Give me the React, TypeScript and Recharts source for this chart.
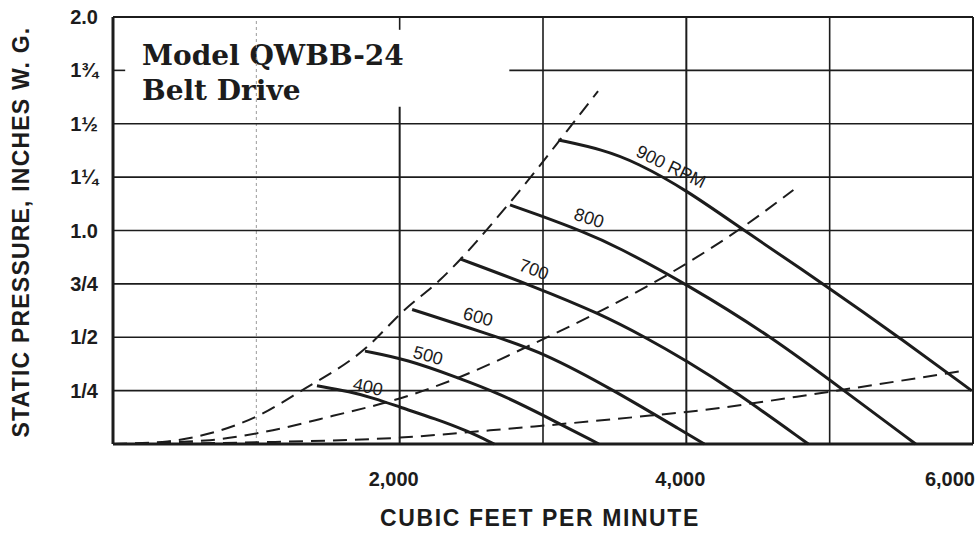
import { LineChart, Line, XAxis, YAxis, ReferenceLine, ReferenceDot } from 'recharts'

// fan curves, [cfm, static pressure in. w.g.]
const rpm400 = [[1423, 0.273], [1654, 0.245], [1830, 0.213], [2003, 0.172], [2250, 0.118], [2470, 0.062], [2660, 0]]
const rpm500 = [[1758, 0.435], [2051, 0.396], [2400, 0.312], [2700, 0.235], [3000, 0.135], [3390, 0]]
const rpm600 = [[2087, 0.63], [2614, 0.516], [3000, 0.43], [3500, 0.25], [4000, 0.05], [4126, 0]]
const rpm700 = [[2421, 0.867], [2940, 0.737], [3398, 0.61], [3714, 0.5], [4000, 0.39], [4333, 0.25], [4851, 0]]
const rpm800 = [[2770, 1.12], [2940, 1.08], [3298, 0.99], [3500, 0.93], [4000, 0.75], [4600, 0.5], [5100, 0.25], [5600, 0]]
const rpm900 = [
  [3107, 1.424], [3417, 1.379], [3655, 1.318], [4000, 1.19], [4402, 1.0],
  [5000, 0.73], [5494, 0.495], [5990, 0.25],
]

// dashed system lines
const systemA = [
  [0, 0], [380, 0.012], [677, 0.05], [1005, 0.13], [1305, 0.246], [1772, 0.454],
  [2023, 0.621], [2282, 0.769], [2770, 1.132], [3168, 1.467], [3384, 1.653],
]
const systemB = [
  [0, 0], [677, 0.018], [1005, 0.05], [1535, 0.132], [2023, 0.218], [2421, 0.314],
  [2940, 0.472], [3369, 0.612], [4000, 0.845], [4402, 1.02], [4747, 1.19],
]
const systemC = [
  [0, 0], [1005, 0.008], [2003, 0.03], [2631, 0.064], [2940, 0.082], [3747, 0.133],
  [4000, 0.15], [5000, 0.245], [5940, 0.344],
]

const cfmTicks = [2000, 4000, 6000]
const cfmTickLabels = ['2,000', '4,000', '6,000']
const spTicks = [0.25, 0.5, 0.75, 1, 1.25, 1.5, 1.75, 2]
const spTickLabels = ['1/4', '1/2', '3/4', '1.0', '1¼', '1½', '1¾', '2.0']

const curveLabels = [
  { text: '400', cfm: 1779, sp: 0.267, angle: 12 },
  { text: '500', cfm: 2198, sp: 0.414, angle: 15 },
  { text: '600', cfm: 2547, sp: 0.595, angle: 15 },
  { text: '700', cfm: 2937, sp: 0.817, angle: 20 },
  { text: '800', cfm: 3321, sp: 1.058, angle: 18 },
  { text: '900 RPM', cfm: 3893, sp: 1.299, angle: 26 },
]

const toPoints = (rows: number[][]) => rows.map(([cfm, sp]) => ({ cfm, sp }))

const INK = '#1c1c1c'
const SANS = '"Liberation Sans", Arial, sans-serif'

const fanSeries = [rpm400, rpm500, rpm600, rpm700, rpm800, rpm900]
const systemSeries = [systemA, systemB, systemC]

function CfmTick({ x, y, payload }: any) {
  const i = cfmTicks.indexOf(payload.value)
  const last = i === cfmTicks.length - 1
  return (
    <text
      x={last ? x + 2 : x - 6}
      y={y + 34}
      textAnchor={last ? 'end' : 'middle'}
      fontFamily={SANS}
      fontWeight={700}
      fontSize={20}
      fill={INK}
    >
      {cfmTickLabels[i]}
    </text>
  )
}

function CurveLabel({ cx, cy, text, angle }: any) {
  return (
    <text
      x={cx}
      y={cy}
      textAnchor="middle"
      dominantBaseline="central"
      transform={`rotate(${angle} ${cx} ${cy})`}
      fontFamily={SANS}
      fontSize={18}
      fill={INK}
    >
      {text}
    </text>
  )
}

export default function App() {
  const grid = { stroke: INK, strokeWidth: 1.6 }
  return (
    <div style={{ position: 'absolute', left: 0, top: 0, width: 977, height: 533, background: '#fff' }}>
      <LineChart width={977} height={533} margin={{ top: 17, right: 4, bottom: 0, left: 0 }}>
        <XAxis
          type="number"
          dataKey="cfm"
          domain={[0, 6000]}
          ticks={cfmTicks}
          interval={0}
          height={89}
          axisLine={false}
          tickLine={false}
          tick={<CfmTick />}
        />
        <YAxis
          type="number"
          dataKey="sp"
          domain={[0, 2]}
          ticks={spTicks}
          interval={0}
          width={113}
          axisLine={false}
          tickLine={false}
          tickMargin={9}
          tickFormatter={(v: number) => spTickLabels[spTicks.indexOf(v)]}
          tick={{ fontFamily: SANS, fontWeight: 700, fontSize: 20, fill: INK }}
        />

        {/* grid */}
        <ReferenceLine x={1000} stroke="#9a9a9a" strokeWidth={1} strokeDasharray="3 3" />
        <ReferenceLine segment={[{ x: 2000, y: 0 }, { x: 2000, y: 1.58 }]} {...grid} strokeWidth={2} />
        <ReferenceLine segment={[{ x: 2000, y: 1.94 }, { x: 2000, y: 2 }]} {...grid} />
        <ReferenceLine x={3000} {...grid} />
        <ReferenceLine x={4000} {...grid} strokeWidth={2} />
        <ReferenceLine x={5000} {...grid} />
        {[0.25, 0.5, 0.75, 1, 1.25, 1.5].map((v) => (
          <ReferenceLine key={v} y={v} {...grid} />
        ))}
        <ReferenceLine segment={[{ x: 0, y: 1.75 }, { x: 85, y: 1.75 }]} {...grid} />
        <ReferenceLine segment={[{ x: 2765, y: 1.75 }, { x: 6000, y: 1.75 }]} {...grid} />
        <ReferenceLine y={2} stroke={INK} strokeWidth={2} />
        <ReferenceLine x={6000} stroke={INK} strokeWidth={2} />
        <ReferenceLine x={0} stroke={INK} strokeWidth={3} />
        <ReferenceLine y={0} stroke={INK} strokeWidth={3} />

        {systemSeries.map((rows, i) => (
          <Line
            key={`sys${i}`}
            data={toPoints(rows)}
            dataKey="sp"
            type="monotone"
            stroke={INK}
            strokeWidth={2}
            strokeDasharray="14 8"
            dot={false}
            isAnimationActive={false}
          />
        ))}
        {fanSeries.map((rows, i) => (
          <Line
            key={`fan${i}`}
            data={toPoints(rows)}
            dataKey="sp"
            type="basis"
            stroke={INK}
            strokeWidth={3}
            dot={false}
            isAnimationActive={false}
          />
        ))}

        {curveLabels.map((l) => (
          <ReferenceDot
            key={l.text}
            x={l.cfm}
            y={l.sp}
            r={0}
            shape={(p: any) => <CurveLabel cx={p.cx} cy={p.cy} text={l.text} angle={l.angle} />}
          />
        ))}

        <text x={142} y={65} fontFamily='"DejaVu Serif", serif' fontWeight={700} fontSize={28} fill={INK}>
          Model QWBB-24
        </text>
        <text x={142} y={100} fontFamily='"DejaVu Serif", serif' fontWeight={700} fontSize={28} fill={INK}>
          Belt Drive
        </text>
        <text
          x={21}
          y={232}
          textAnchor="middle"
          dominantBaseline="central"
          transform="rotate(-90 21 232)"
          fontFamily={SANS}
          fontWeight={700}
          fontSize={23}
          letterSpacing={1.2}
          fill={INK}
        >
          STATIC PRESSURE, INCHES W. G.
        </text>
        <text
          x={540}
          y={526}
          textAnchor="middle"
          fontFamily={SANS}
          fontWeight={700}
          fontSize={23}
          letterSpacing={1.6}
          fill={INK}
        >
          CUBIC FEET PER MINUTE
        </text>
      </LineChart>
    </div>
  )
}
